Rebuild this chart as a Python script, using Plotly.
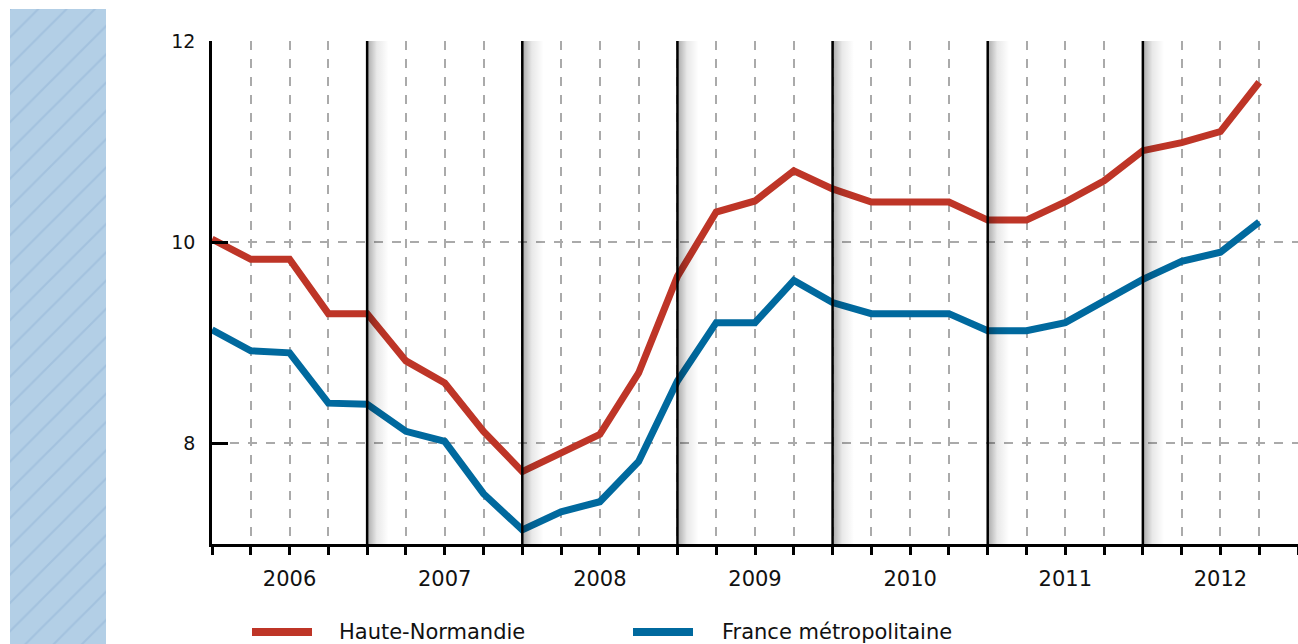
import plotly.graph_objects as go

# ---- data -------------------------------------------------------------
years = ["2006", "2007", "2008", "2009", "2010", "2011", "2012"]
quarters_per_year = 4

haute_normandie = [10.03, 9.83, 9.83, 9.29, 9.29, 8.82, 8.60, 8.12,
                   7.72, 7.91, 8.09, 8.70, 9.66, 10.30, 10.41, 10.71,
                   10.53, 10.40, 10.40, 10.40, 10.22, 10.22, 10.40, 10.61,
                   10.91, 10.99, 11.10, 11.59]
france_metro = [9.13, 8.92, 8.90, 8.40, 8.39, 8.12, 8.02, 7.50,
                7.14, 7.32, 7.42, 7.82, 8.62, 9.20, 9.20, 9.62,
                9.40, 9.29, 9.29, 9.29, 9.12, 9.12, 9.20, 9.41,
                9.63, 9.81, 9.90, 10.20]
y_ticks = [8, 10, 12]
y_range = [7, 12]

series_names = ["Haute-Normandie", "France métropolitaine"]
series_colors = ["#be3527", "#00699e"]

# ---- derived ----------------------------------------------------------
W, H = 1298, 644
n_q = len(years) * quarters_per_year
quarter_pos = list(range(len(haute_normandie)))
year_centers = [i * quarters_per_year + quarters_per_year / 2 for i in range(len(years))]
year_bounds = [i * quarters_per_year for i in range(1, len(years))]

FONT = "DejaVu Sans"
x_dom = [212 / W, 1.0]
y_dom = [1 - 544 / H, 1 - 41 / H]

fig = go.Figure()

# hatched decorative band on the left
fig.add_trace(go.Bar(
    x=[0], y=[1], width=[1], xaxis="x3", yaxis="y3",
    marker=dict(color="#b3cfe6", line=dict(width=0),
                pattern=dict(shape="/", fgcolor="#a3c2de", bgcolor="#b3cfe6",
                             fgopacity=1, size=20, solidity=0.1)),
    hoverinfo="skip", showlegend=False))

# data lines
for name, vals, col in zip(series_names, [haute_normandie, france_metro], series_colors):
    fig.add_trace(go.Scatter(
        x=quarter_pos, y=vals, mode="lines", name=name,
        line=dict(color=col, width=7), showlegend=False))

# shadow gradient to the right of each year boundary (drawn above lines)
shade_w = 0.55
for b in year_bounds:
    fig.add_trace(go.Scatter(
        x=[b, b + shade_w, b + shade_w, b, b],
        y=[y_range[0], y_range[0], y_range[1], y_range[1], y_range[0]],
        mode="lines", line=dict(width=0), fill="toself",
        fillgradient=dict(type="horizontal",
                          colorscale=[[0, "rgba(0,0,0,0.34)"],
                                      [0.45, "rgba(0,0,0,0.09)"],
                                      [1, "rgba(0,0,0,0)"]]),
        hoverinfo="skip", showlegend=False))

# year boundary black lines
shapes = []
for b in year_bounds:
    shapes.append(dict(type="line", xref="x", yref="y", x0=b, x1=b,
                       y0=y_range[0], y1=y_range[1],
                       line=dict(color="black", width=2.5), layer="above"))

# custom legend
legend_y = 1 - 632 / H
legend_items = [(252, 312, 337), (633, 693, 720)]
annotations = []
for (s0, s1, tx), name, col in zip(legend_items, series_names, series_colors):
    shapes.append(dict(type="line", xref="paper", yref="paper",
                       x0=s0 / W, x1=s1 / W, y0=legend_y, y1=legend_y,
                       line=dict(color=col, width=8)))
    annotations.append(dict(text=name, xref="paper", yref="paper",
                            x=tx / W, y=legend_y, xanchor="left", yanchor="middle",
                            showarrow=False, font=dict(family=FONT, size=21, color="#111")))

grid_common = dict(gridcolor="#aaaaaa", gridwidth=1.5, griddash="dash")

fig.update_layout(
    width=W, height=H, autosize=False,
    margin=dict(l=0, r=0, t=0, b=0, pad=0, autoexpand=False),
    paper_bgcolor="white", plot_bgcolor="white",
    font=dict(family=FONT, color="#111"),
    shapes=shapes, annotations=annotations,
    showlegend=False,
    xaxis=dict(domain=x_dom, range=[0, n_q], tickmode="array",
               tickvals=year_centers, ticktext=years,
               showgrid=True, **grid_common,
               ticks="outside", ticklen=8, tickwidth=2.5, tickcolor="black",
               minor=dict(tickmode="array", tickvals=list(range(n_q + 1)),
                          ticks="outside", ticklen=8, tickwidth=2.5, tickcolor="black",
                          showgrid=True, **grid_common),
               tickfont=dict(family=FONT, size=21, color="#111"),
               ticklabelstandoff=6,
               showline=True, linecolor="black", linewidth=2.5,
               zeroline=False, anchor="y", automargin=False, fixedrange=True),
    yaxis=dict(domain=y_dom, range=y_range, tickmode="array", tickvals=y_ticks,
               showgrid=True, **grid_common,
               ticks="inside", ticklen=16, tickwidth=3, tickcolor="black",
               showline=True, linecolor="black", linewidth=2.5,
               zeroline=False, tickfont=dict(family=FONT, size=19, color="#111"),
               ticklabelstandoff=10, anchor="x", automargin=False, fixedrange=True),
    xaxis3=dict(domain=[10 / W, 106 / W], range=[-0.5, 0.5], visible=False,
                anchor="y3", fixedrange=True, automargin=False),
    yaxis3=dict(domain=[0, 1 - 9 / H], range=[0, 1], visible=False,
                anchor="x3", fixedrange=True, automargin=False),
)

fig.write_html("out.html", config={"displayModeBar": False})
